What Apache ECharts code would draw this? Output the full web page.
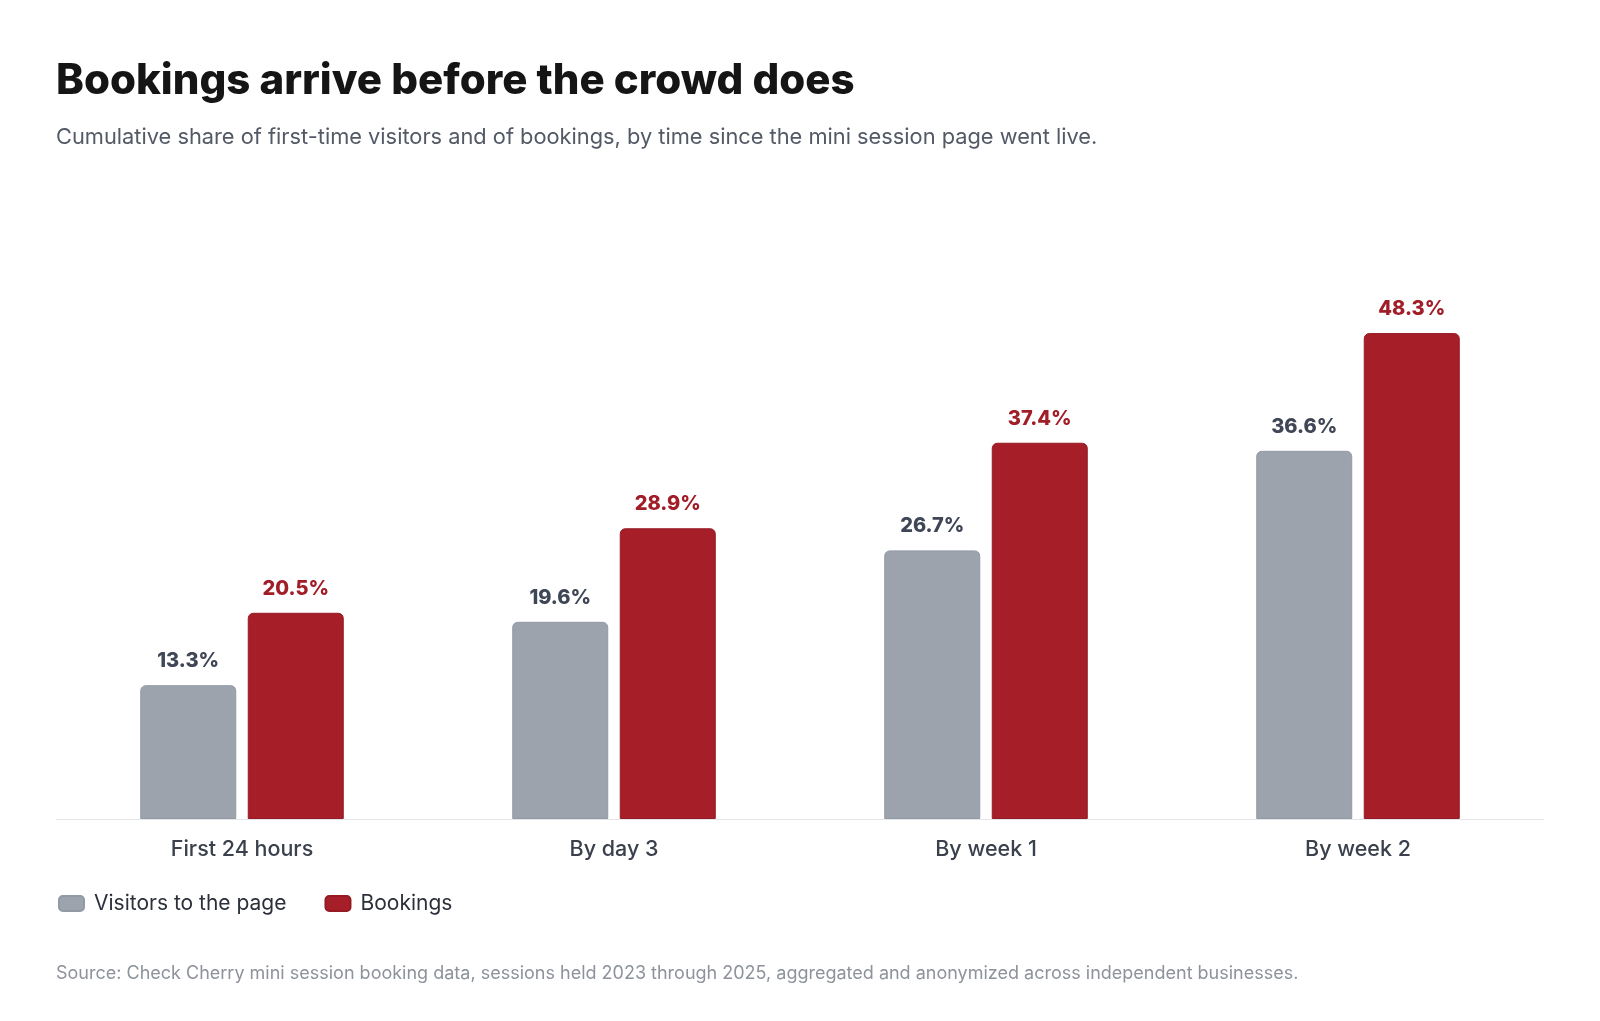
<!DOCTYPE html>
<html>
<head>
<meta charset="utf-8">
<title>Bookings arrive before the crowd does</title>
<script src="https://cdn.jsdelivr.net/npm/echarts@6/dist/echarts.min.js"></script>
<style>
  html, body { margin: 0; padding: 0; background: #fff; }
  #chart { width: 1600px; height: 1021px; }
</style>
</head>
<body>
<div id="chart"></div>
<script>
// data
var categories = ['First 24 hours', 'By day 3', 'By week 1', 'By week 2'];
var visitors = [13.3, 19.6, 26.7, 36.6];
var bookings = [20.5, 28.9, 37.4, 48.3];

var FONT = 'Inter, "Noto Sans", sans-serif';

var myChart = echarts.init(document.getElementById('chart'));

var option = {
    backgroundColor: '#ffffff',
    animation: false,
    title: [
        {
            text: 'Bookings arrive before the crowd does',
            left: 51,
            top: 55,
            textStyle: { fontFamily: FONT, fontSize: 42, fontWeight: 800, color: '#151515' }
        },
        {
            text: 'Cumulative share of first-time visitors and of bookings, by time since the mini session page went live.',
            left: 51,
            top: 121,
            textStyle: { fontFamily: FONT, fontSize: 21.8, fontWeight: 400, color: '#535a66' }
        },
        {
            text: 'Source: Check Cherry mini session booking data, sessions held 2023 through 2025, aggregated and anonymized across independent businesses.',
            left: 51,
            top: 960,
            textStyle: { fontFamily: FONT, fontSize: 18, fontWeight: 400, color: '#8d929b' }
        }
    ],
    legend: {
        left: 53,
        top: 888,
        itemWidth: 25,
        itemHeight: 15,
        itemGap: 38,
        icon: 'roundRect',
        textStyle: { fontFamily: FONT, fontSize: 21, color: '#2b303a', padding: [0, 0, 0, 5] },
        data: ['Visitors to the page', 'Bookings']
    },
    grid: { left: 56, right: 56, top: 316, bottom: 202 },
    xAxis: {
        type: 'category',
        data: categories,
        axisLine: { lineStyle: { color: '#e3e5e9', width: 1 } },
        axisTick: { show: false },
        axisLabel: { margin: 20, fontFamily: FONT, fontSize: 21.5, fontWeight: 500, color: '#3a404c' }
    },
    yAxis: {
        type: 'value',
        min: 0,
        max: 50,
        show: false,
        splitLine: { show: false }
    },
    series: [
        {
            name: 'Visitors to the page',
            type: 'bar',
            data: visitors,
            barWidth: 96,
            barGap: '12%',
            itemStyle: { color: '#9ca3ad', borderColor: '#929aa5', borderWidth: 1, borderRadius: [5, 5, 0, 0] },
            label: {
                show: true,
                position: 'top',
                distance: 14,
                formatter: '{c}%',
                fontFamily: FONT,
                fontSize: 20,
                fontWeight: 800,
                color: '#3f4656'
            }
        },
        {
            name: 'Bookings',
            type: 'bar',
            data: bookings,
            barWidth: 96,
            itemStyle: { color: '#a51e28', borderColor: '#951a23', borderWidth: 1, borderRadius: [5, 5, 0, 0] },
            label: {
                show: true,
                position: 'top',
                distance: 14,
                formatter: '{c}%',
                fontFamily: FONT,
                fontSize: 20,
                fontWeight: 800,
                color: '#a11d27'
            }
        }
    ]
};

myChart.setOption(option);
</script>
</body>
</html>
